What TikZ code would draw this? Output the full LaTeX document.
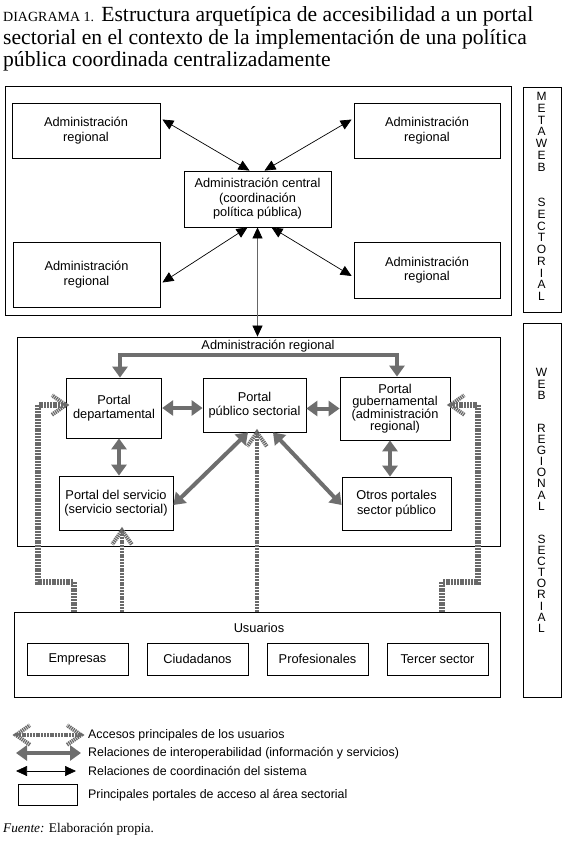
\documentclass[tikz,border=0pt]{standalone}
\usepackage{fontspec}
\setmainfont{Liberation Serif}
\setsansfont{Liberation Sans}
\usetikzlibrary{arrows.meta,calc}
\definecolor{igray}{HTML}{6E6E6E}
\definecolor{agray}{HTML}{6A6A6A}
\newcommand\accchev[3]{\draw[accarm] ($(#1)+(#2:17)$) -- (#1) -- ($(#1)+(#3:17)$);}
\begin{document}
\begin{tikzpicture}[x=1pt,y=-1pt,
  bx/.style={draw, line width=0.8pt, align=center, inner sep=0pt, font=\sffamily\fontsize{12.8}{14.5}\selectfont},
  outerbox/.style={draw, line width=0.8pt, inner sep=0pt},
  lbl/.style={font=\sffamily\fontsize{12.8}{14.5}\selectfont, inner sep=0pt},
  leg/.style={font=\sffamily\fontsize{12.4}{14}\selectfont, inner sep=0pt, anchor=west},
  vletters/.style={inner sep=0pt, align=center, font=\sffamily\fontsize{12}{#1}\selectfont},
  coordarrow/.style={line width=0.7pt, {Triangle[length=11pt,width=10pt,color=black]}-{Triangle[length=11pt,width=10pt,color=black]}},
  interop/.style={draw=igray, line width=4pt, {Triangle[length=11pt,width=15pt]}-{Triangle[length=11pt,width=15pt]}},
  acc/.style={draw=agray, line width=5.5pt, dash pattern=on 2pt off 0.8pt},
  accarm/.style={draw=agray, line width=4pt, dash pattern=on 1.3pt off 0.8pt},
]
\path[use as bounding box, fill=white] (0,0) rectangle (564,854);

% title
\node[anchor=base west, inner sep=0pt, font=\fontsize{21.6}{24}\selectfont] (t1) at (3,21.5) {{\fontsize{14}{15}\selectfont DIAGRAMA 1.} Estructura arquetípica de accesibilidad a un portal};
\node[anchor=base west, inner sep=0pt, font=\fontsize{21.6}{24}\selectfont] (t2) at (3,44) {sectorial en el contexto de la implementación de una política};
\node[anchor=base west, inner sep=0pt, font=\fontsize{21.6}{24}\selectfont] (t3) at (3,66.5) {pública coordinada centralizadamente};

% ---- meta web part
\node[outerbox, minimum width=506pt, minimum height=229pt] (top) at (258,200.5) {};
\node[outerbox, minimum width=38pt, minimum height=225pt] (meta) at (542,199.5) {};
\node[vletters=11.76] (metal) at (541.5,196.5) {M\\E\\T\\A\\W\\E\\B\\[23.5pt]S\\E\\C\\T\\O\\R\\I\\A\\L};

\node[bx, minimum width=148pt, minimum height=55pt] (rtl) at (86,130.5) {Administración\\regional};
\node[bx, minimum width=146pt, minimum height=55pt] (rtr) at (427,130.5) {Administración\\regional};
\node[bx, minimum width=147pt, minimum height=56pt] (cen) at (257.5,199) {Administración central\\(coordinación\\política pública)};
\node[bx, minimum width=147pt, minimum height=65pt] (rbl) at (86.5,274.5) {Administración\\regional};
\node[bx, minimum width=146pt, minimum height=56pt] (rbr) at (427,270) {Administración\\regional};

\draw[coordarrow] ([xshift=2pt,yshift=11pt]rtl.east) -- ([xshift=-8pt]cen.north);
\draw[coordarrow] ([xshift=-2pt,yshift=11pt]rtr.west) -- ([xshift=7pt]cen.north);
\draw[coordarrow] ([xshift=2pt,yshift=-8pt]rbl.east) -- ([xshift=-10pt]cen.south);
\draw[coordarrow] ([xshift=-2pt,yshift=-6pt]rbr.west) -- ([xshift=14pt]cen.south);

% ---- regional part
\node[outerbox, minimum width=483pt, minimum height=209pt] (reg) at (258.5,441.5) {};
\node[outerbox, minimum width=38pt, minimum height=374pt] (web) at (542,510) {};
\node[vletters=11.1] (webl) at (541.5,500.5) {W\\E\\B\\[22.2pt]R\\E\\G\\I\\O\\N\\A\\L\\[22.2pt]S\\E\\C\\T\\O\\R\\I\\A\\L};

\draw[coordarrow, draw=gray!80!black] (cen.south) -- (cen.south |- reg.north);

\node[lbl] (regl) at (268,346) {Administración regional};

\node[bx, minimum width=95.5pt, minimum height=60pt] (dep) at (114,408) {Portal\\departamental};
\node[bx, minimum width=103pt, minimum height=54pt] (pub) at (254.5,405) {Portal\\público sectorial};
\node[bx, minimum width=110pt, minimum height=63pt, font=\sffamily\fontsize{12.8}{12.4}\selectfont] (gub) at (395,408.5) {Portal\\gubernamental\\(administración\\regional)};
\node[bx, minimum width=114pt, minimum height=54pt] (serv) at (116,503) {Portal del servicio\\(servicio sectorial)};
\node[bx, minimum width=109pt, minimum height=53pt] (otr) at (396.5,503.5) {Otros portales\\sector público};

% interoperability arrows
\coordinate (depT) at ([xshift=6pt]dep.north);
\coordinate (gubT) at ([xshift=2pt]gub.north);
\coordinate (brk) at (258,355);
\draw[interop] (depT) |- (brk) -| (gubT);
\draw[interop] (dep.east) -- (dep.east -| pub.west);
\draw[interop] (gub.west -| pub.east) -- (gub.west);
\draw[interop] ([xshift=5pt]dep.south) -- ([xshift=3pt]serv.north);
\draw[interop] ([xshift=-5pt]gub.south) -- ([xshift=-6.5pt]otr.north);
\draw[interop] ([xshift=-6.5pt]pub.south) -- ([yshift=-2pt]serv.east);
\draw[interop] ([xshift=18.5pt]pub.south) -- ([yshift=-1.5pt]otr.west);

% ---- users
\node[outerbox, minimum width=486pt, minimum height=85pt] (usu) at (257,654.5) {};
\node[lbl] (usul) at (259,628) {Usuarios};
\node[bx, minimum width=101pt, minimum height=32pt] (emp) at (77.5,659) {Empresas};
\node[bx, minimum width=101pt, minimum height=32pt] (ciu) at (197.5,659) {Ciudadanos};
\node[bx, minimum width=101pt, minimum height=32pt] (pro) at (317.5,659) {Profesionales};
\node[bx, minimum width=101pt, minimum height=32pt] (ter) at (437.5,659) {Tercer sector};

% access arrows
\coordinate (depA) at ([yshift=3pt]dep.west);
\coordinate (gubA) at ([yshift=3.5pt]gub.east);
\coordinate (uL) at (74,612);
\coordinate (uR) at (442,612);
\draw[acc] (uL) |- (38,582) |- (depA);
\accchev{depA}{145}{215}
\draw[acc] (uR) |- (478,582) |- (gubA);
\accchev{gubA}{35}{-35}
\coordinate (servA) at ([xshift=6pt]serv.south);
\draw[acc, line width=4.5pt] (servA |- usu.north) -- (servA);
\accchev{servA}{55}{125}
\coordinate (pubA) at ([xshift=2.5pt]pub.south);
\draw[acc, line width=4.5pt] (pubA |- usu.north) -- (pubA);
\accchev{pubA}{55}{125}

% ---- legend
\coordinate (la1) at (16,735);
\coordinate (lb1) at (81,735);
\draw[acc, line width=4pt] (la1) -- (lb1);
\accchev{la1}{35}{-35}
\accchev{lb1}{145}{215}
\node[leg] (lt1) at (88,735) {Accesos principales de los usuarios};

\coordinate (la2) at (16,753);
\coordinate (lb2) at (81,753);
\draw[interop] (la2) -- (lb2);
\node[leg] (lt2) at (88,753) {Relaciones de interoperabilidad (información y servicios)};

\coordinate (la3) at (16,771);
\coordinate (lb3) at (76,771);
\draw[coordarrow] (la3) -- (lb3);
\node[leg] (lt3) at (88,771) {Relaciones de coordinación del sistema};

\node[outerbox, minimum width=59pt, minimum height=21pt] (lbox) at (47.5,794.5) {};
\node[leg] (lt4) at (88,795) {Principales portales de acceso al área sectorial};

\node[anchor=base west, inner sep=0pt, font=\fontsize{13.3}{15}\selectfont] (src) at (3,832) {\textit{Fuente:} Elaboración propia.};
\end{tikzpicture}
\end{document}
